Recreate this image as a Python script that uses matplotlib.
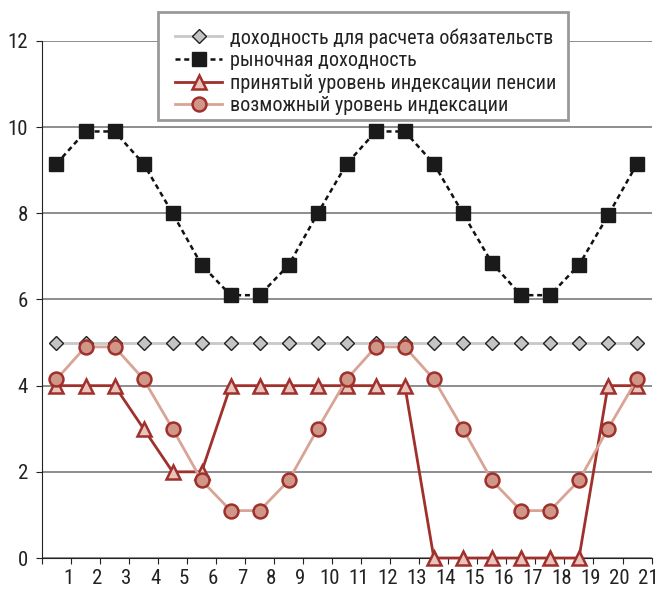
import matplotlib
matplotlib.use("Agg")
import matplotlib.pyplot as plt
import matplotlib.transforms as mtransforms
from matplotlib import font_manager
from matplotlib.patches import Rectangle

# Periods (points sit mid-way between integer ticks)
periods = [p + 0.5 for p in range(21)]

liability_rate = [5.0] * 21
market_rate = [9.15, 9.9, 9.9, 9.15, 8.0, 6.8, 6.1, 6.1, 6.8, 8.0, 9.15,
               9.9, 9.9, 9.15, 8.0, 6.85, 6.1, 6.1, 6.8, 7.95, 9.15]
accepted_index = [4, 4, 4, 3, 2, 2, 4, 4, 4, 4, 4, 4, 4, 0, 0, 0, 0, 0, 0, 4, 4]
possible_index = [4.15, 4.9, 4.9, 4.15, 3.0, 1.8, 1.1, 1.1, 1.8, 3.0, 4.15,
                  4.9, 4.9, 4.15, 3.0, 1.8, 1.1, 1.1, 1.8, 3.0, 4.15]

series_labels = [
    "доходность для расчета обязательств",
    "рыночная доходность",
    "принятый уровень индексации пенсии",
    "возможный уровень индексации",
]
x_ticks = list(range(1, 22))
y_ticks = [0, 2, 4, 6, 8, 10, 12]

available = {f.name for f in font_manager.fontManager.ttflist}
family = "DejaVu Sans"
for cand in ("Roboto Condensed", "PT Sans Narrow", "Fira Sans Condensed",
             "IBM Plex Sans Condensed", "Archivo Narrow"):
    if cand in available:
        family = cand
        break
plt.rcParams["font.family"] = [family, "DejaVu Sans"]

W, H = 659, 594
fig = plt.figure(figsize=(W / 100, H / 100), dpi=100)
ax = fig.add_axes([0.0637, 0.0606, 0.925, 0.8704])

ax.set_xlim(0, 21)
ax.set_ylim(0, 12)
ax.set_yticks(y_ticks)
ax.set_xticks([0] + x_ticks)
ax.set_xticklabels([""] + [str(t) for t in x_ticks])
ax.yaxis.grid(True, color="#7a7a7a", linewidth=1.2)
ax.set_axisbelow(True)
for s in ("top", "right"):
    ax.spines[s].set_visible(False)
ax.spines["left"].set_color("#222222")
ax.spines["bottom"].set_color("#222222")
ax.tick_params(axis="both", direction="out", length=4, color="#222222",
               labelsize=15, labelcolor="#222222")
ax.tick_params(axis="x", pad=4)
ax.tick_params(axis="y", pad=6)

# nudge x tick labels a little to the left of their ticks
shift = mtransforms.ScaledTranslation(-3 / 100, 0, fig.dpi_scale_trans)
for lbl in ax.get_xticklabels():
    lbl.set_transform(lbl.get_transform() + shift)

ax.plot(periods, liability_rate, color="#c8c8c8", linewidth=2,
        marker="D", markersize=7.5, markerfacecolor="#c4c4c4",
        markeredgecolor="#222222", markeredgewidth=1, label=series_labels[0],
        zorder=3, clip_on=False)
ax.plot(periods, market_rate, color="#111111", linewidth=1.8, linestyle=(0, (2, 1.5)),
        marker="s", markersize=10.5, markerfacecolor="#1a1a1a",
        markeredgecolor="#1a1a1a", label=series_labels[1], zorder=4, clip_on=False)
ax.plot(periods, accepted_index, color="#a0302c", linewidth=2,
        marker="^", markersize=10, markerfacecolor="#e8c4bc",
        markeredgecolor="#a0302c", markeredgewidth=1.8, label=series_labels[2],
        zorder=5, clip_on=False)
ax.plot(periods, possible_index, color="#d8a496", linewidth=2,
        marker="o", markersize=10, markerfacecolor="#d09688",
        markeredgecolor="#a0302c", markeredgewidth=1.8, label=series_labels[3],
        zorder=6, clip_on=False)

# Legend box drawn separately so the entries can sit low inside it
fig.add_artist(Rectangle((158 / W, 1 - 120 / H), 410 / W, 108 / H,
                         transform=fig.transFigure, facecolor="white",
                         edgecolor="#999999", linewidth=2, zorder=9))
leg = fig.legend(loc="upper left", bbox_to_anchor=(175 / W, 1 - 28 / H),
                 frameon=False, fontsize=14.5, handlelength=2.35,
                 handletextpad=0.4, labelspacing=0.18, borderpad=0,
                 borderaxespad=0, labelcolor="#222222")
leg.set_zorder(10)

fig.savefig("out.png", dpi=100)
